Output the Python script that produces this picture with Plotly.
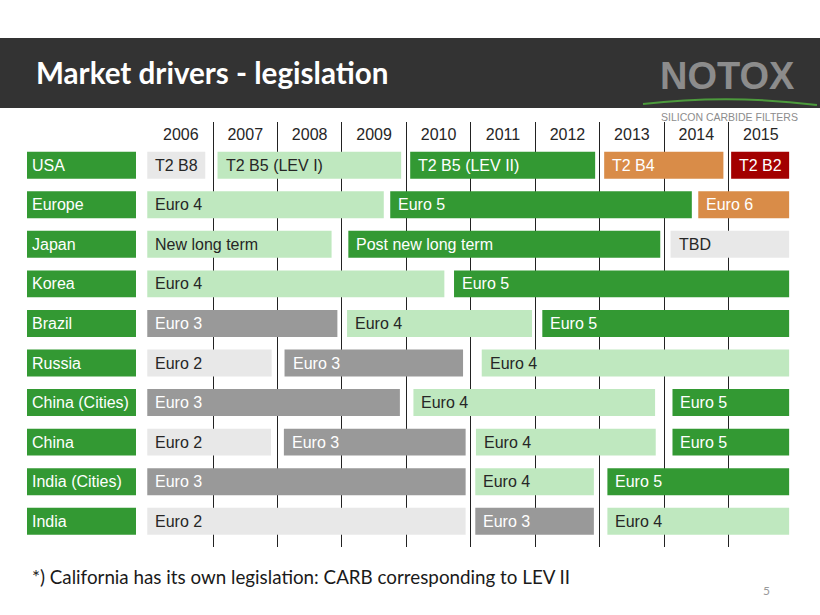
import plotly.graph_objects as go

W, H = 820, 615

# ---------------- data ----------------
rows = ["USA", "Europe", "Japan", "Korea", "Brazil", "Russia",
        "China (Cities)", "China", "India (Cities)", "India"]
years = [2006, 2007, 2008, 2009, 2010, 2011, 2012, 2013, 2014, 2015]
year_labels = [str(y) for y in years]

seg_row = ["USA", "USA", "USA", "USA", "USA",
           "Europe", "Europe", "Europe",
           "Japan", "Japan", "Japan",
           "Korea", "Korea",
           "Brazil", "Brazil", "Brazil",
           "Russia", "Russia", "Russia",
           "China (Cities)", "China (Cities)", "China (Cities)",
           "China", "China", "China", "China",
           "India (Cities)", "India (Cities)", "India (Cities)",
           "India", "India", "India"]
seg_label = ["T2 B8", "T2 B5 (LEV I)", "T2 B5 (LEV II)", "T2 B4", "T2 B2",
             "Euro 4", "Euro 5", "Euro 6",
             "New long term", "Post new long term", "TBD",
             "Euro 4", "Euro 5",
             "Euro 3", "Euro 4", "Euro 5",
             "Euro 2", "Euro 3", "Euro 4",
             "Euro 3", "Euro 4", "Euro 5",
             "Euro 2", "Euro 3", "Euro 4", "Euro 5",
             "Euro 3", "Euro 4", "Euro 5",
             "Euro 2", "Euro 3", "Euro 4"]
seg_start = [2005.98, 2007.07, 2010.06, 2013.07, 2015.04,
             2005.98, 2009.75, 2014.53,
             2005.98, 2009.10, 2014.10,
             2005.98, 2010.74,
             2005.98, 2009.08, 2012.11,
             2005.98, 2008.11, 2011.17,
             2005.98, 2010.11, 2014.13,
             2005.98, 2008.10, 2011.08, 2014.13,
             2005.98, 2011.07, 2013.12,
             2005.98, 2011.07, 2013.12]
seg_end = [2006.88, 2009.92, 2012.93, 2014.92, 2015.94,
           2009.65, 2014.43, 2015.94,
           2008.84, 2013.94, 2015.94,
           2010.59, 2015.94,
           2008.93, 2011.95, 2015.94,
           2007.91, 2010.88, 2015.94,
           2009.90, 2013.86, 2015.94,
           2007.90, 2010.92, 2013.87, 2015.94,
           2010.92, 2012.91, 2015.94,
           2010.92, 2012.91, 2015.94]
seg_kind = ["lgray", "lgreen", "green", "orange", "red",
            "lgreen", "green", "orange",
            "lgreen", "green", "lgray",
            "lgreen", "green",
            "gray", "lgreen", "green",
            "lgray", "gray", "lgreen",
            "gray", "lgreen", "green",
            "lgray", "gray", "lgreen", "green",
            "gray", "lgreen", "green",
            "lgray", "gray", "lgreen"]

# ---------------- styles ----------------
fill = {"lgray": "#E8E8E8", "gray": "#999999", "lgreen": "#BFE8BF",
        "green": "#339933", "orange": "#D98C48", "red": "#A30000"}
txtcol = {"lgray": "#262626", "gray": "#FFFFFF", "lgreen": "#262626",
          "green": "#FFFFFF", "orange": "#FFFFFF", "red": "#FFFFFF"}
BAR_FONT = "Liberation Sans, Arial, sans-serif"
ROW_H = 0.68

row_idx = {r: i for i, r in enumerate(rows)}

fig = go.Figure()

# row label boxes
fig.add_trace(go.Bar(
    y=list(range(len(rows))), x=[1] * len(rows), base=[0] * len(rows),
    orientation="h", width=ROW_H, marker=dict(color="#339933", line=dict(width=0)),
    xaxis="x2", yaxis="y", hoverinfo="skip", showlegend=False))

# legislation segments, one trace per colour
for kind in fill:
    ids = [i for i, k in enumerate(seg_kind) if k == kind]
    if not ids:
        continue
    fig.add_trace(go.Bar(
        y=[row_idx[seg_row[i]] for i in ids],
        base=[seg_start[i] for i in ids],
        x=[seg_end[i] - seg_start[i] for i in ids],
        orientation="h", width=ROW_H,
        marker=dict(color=fill[kind], line=dict(width=0)),
        xaxis="x", yaxis="y", hoverinfo="skip", showlegend=False))

annotations = []
for i, lab in enumerate(seg_label):
    annotations.append(dict(
        x=seg_start[i], y=row_idx[seg_row[i]], xref="x", yref="y",
        text=lab, showarrow=False, xanchor="left", yanchor="middle", xshift=6,
        font=dict(family=BAR_FONT, size=16, color=txtcol[seg_kind[i]])))
for r in rows:
    annotations.append(dict(
        x=0, y=row_idx[r], xref="x2", yref="y", text=r, showarrow=False,
        xanchor="left", yanchor="middle", xshift=3,
        font=dict(family=BAR_FONT, size=16, color="#FFFFFF")))

# slide texts
def px(xp, yp):
    return xp / W, 1 - yp / H

tx, ty = px(34, 73)
annotations.append(dict(x=tx, y=ty, xref="paper", yref="paper", showarrow=False,
                        xanchor="left", yanchor="middle",
                        text="<b>Market drivers - legislation</b>",
                        font=dict(family="Lato, sans-serif", size=29.6, color="#FFFFFF")))
tx, ty = px(727, 76)
annotations.append(dict(x=tx, y=ty, xref="paper", yref="paper", showarrow=False,
                        xanchor="center", yanchor="middle", text="<b>NOTOX</b>",
                        font=dict(family="Liberation Sans, Arial, sans-serif", size=38,
                                  color="#8C8C8C")))
tx, ty = px(729, 117)
annotations.append(dict(x=tx, y=ty, xref="paper", yref="paper", showarrow=False,
                        xanchor="center", yanchor="middle", text="SILICON CARBIDE FILTERS",
                        font=dict(family="Liberation Sans, Arial, sans-serif", size=10.5,
                                  color="#8C8C8C")))
tx, ty = px(30, 576)
annotations.append(dict(x=tx, y=ty, xref="paper", yref="paper", showarrow=False,
                        xanchor="left", yanchor="middle",
                        text="*) California has its own legislation: CARB corresponding to LEV II",
                        font=dict(family="Lato, sans-serif", size=18.8, color="#1A1A1A")))
tx, ty = px(766, 590)
annotations.append(dict(x=tx, y=ty, xref="paper", yref="paper", showarrow=False,
                        xanchor="center", yanchor="middle", text="5",
                        font=dict(family="Lato, sans-serif", size=12, color="#999999")))

shapes = []
x0, y1 = px(0, 38)
x1, y0 = px(820, 108)
shapes.append(dict(type="rect", xref="paper", yref="paper", x0=x0, x1=x1, y0=y0, y1=y1,
                   fillcolor="#333333", line=dict(width=0), layer="below"))
a = px(643, 104); b = px(730, 94); c = px(817, 105)
shapes.append(dict(type="path", xref="paper", yref="paper",
                   path=f"M {a[0]},{a[1]} Q {b[0]},{b[1]} {c[0]},{c[1]}",
                   line=dict(color="#4C9A3C", width=2)))

# axes geometry
c0, step = 165.2, 39.56          # row 0 centre and row pitch (px)
top_px, bot_px = 122, 547        # extent of the year grid (px)
y_lo = (top_px - c0) / step
y_hi = (bot_px - c0) / step
x_px0, x_px1 = 148.56, 793.0     # pixel positions of 2006 and 2016
x_min = 2005.95
x_left_px = x_px0 - (2006 - x_min) * (x_px1 - x_px0) / 10

fig.update_layout(
    width=W, height=H, margin=dict(l=0, r=0, t=0, b=0),
    paper_bgcolor="white", plot_bgcolor="rgba(0,0,0,0)",
    barmode="overlay", showlegend=False,
    xaxis=dict(domain=[x_left_px / W, x_px1 / W], range=[x_min, 2016],
               tickmode="array", tickvals=[y + 0.5 for y in years], ticktext=year_labels,
               side="top", ticklabelposition="inside", ticks="", showgrid=False,
               ticklabelstandoff=4,
               zeroline=False, showline=False,
               tickfont=dict(family=BAR_FONT, size=16, color="#262626"),
               minor=dict(tickmode="array", tickvals=years[1:], showgrid=True,
                          gridcolor="#222222", gridwidth=1, ticks=""),
               anchor="y", fixedrange=True),
    xaxis2=dict(domain=[27 / W, 136 / W], range=[0, 1], visible=False,
                anchor="y", fixedrange=True),
    yaxis=dict(domain=[1 - bot_px / H, 1 - top_px / H], range=[y_hi, y_lo],
               visible=False, fixedrange=True),
    annotations=annotations, shapes=shapes,
)

fig.write_html("out.html", config={"displayModeBar": False},
               post_script="document.body.style.margin='0';")
